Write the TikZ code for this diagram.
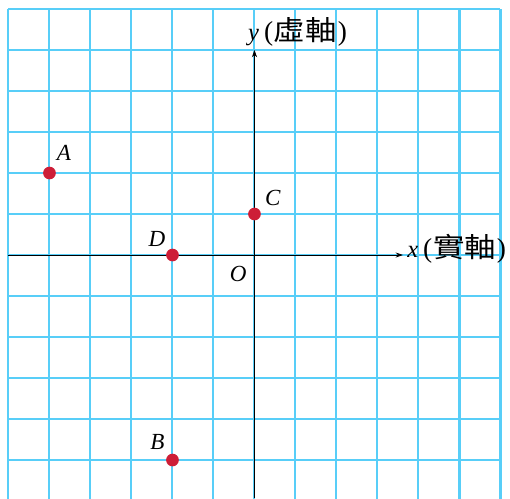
\documentclass[tikz,border=0pt]{standalone}
\usepackage{fontspec}
\setmainfont{Liberation Serif}
\newfontfamily\cjk[FakeStretch=1.15]{Noto Sans CJK TC}
\usetikzlibrary{arrows.meta}
\definecolor{gridblue}{RGB}{88,206,248}
\definecolor{dotred}{RGB}{205,30,55}
\newcommand{\axname}[2]{{\fontsize{17}{20}\selectfont\textit{#1}}\hspace{0.12cm}{\fontsize{19}{22}\selectfont(\hspace{0.02cm}{\cjk #2}\hspace{0.02cm})}}
\begin{document}
\begin{tikzpicture}[x=1cm,y=1cm,
  gridline/.style={gridblue,line width=1.4pt},
  axisline/.style={black,line width=0.5pt,-{Stealth[length=5pt,width=3.5pt]}},
  pt/.style={circle,fill=dotred,inner sep=0pt,minimum size=0.31cm},
  lbl/.style={font=\fontsize{16}{19}\selectfont\itshape,inner sep=0pt},
  axlbl/.style={inner sep=0pt,anchor=base west}]
\useasboundingbox (-6.207,-5.927) rectangle (6.232,6.22);
\begin{scope}
\clip (-6.207,-5.927) rectangle (6.232,6.22);
\foreach \i in {-6,...,6} \draw[gridline] (\i,-6.2) -- (\i,6);
\foreach \j in {-5,...,6} \draw[gridline] (-6,\j) -- (6,\j);
\end{scope}
\coordinate (xs) at (-6,0);
\coordinate (xe) at (3.62,0);
\coordinate (ys) at (0,-5.927);
\coordinate (ye) at (0,5.0);
\draw[axisline] (xs) -- (xe);
\draw[axisline] (ys) -- (ye);
\node[axlbl] (xl) at (3.72,-0.05) {\axname{x}{實軸}};
\node[axlbl] (yl) at (-0.16,5.24) {\axname{y}{虛軸}};
\node[pt] (A) at (-5,2) {};
\node[pt] (B) at (-2,-5) {};
\node[pt] (C) at (0,1) {};
\node[pt] (D) at (-2,0) {};
\node[lbl] (Al) at (-4.65,2.50) {A};
\node[lbl] (Bl) at (-2.37,-4.56) {B};
\node[lbl] (Cl) at (0.45,1.39) {C};
\node[lbl] (Dl) at (-2.38,0.39) {D};
\node[lbl] (O) at (-0.40,-0.46) {O};
\end{tikzpicture}
\end{document}
